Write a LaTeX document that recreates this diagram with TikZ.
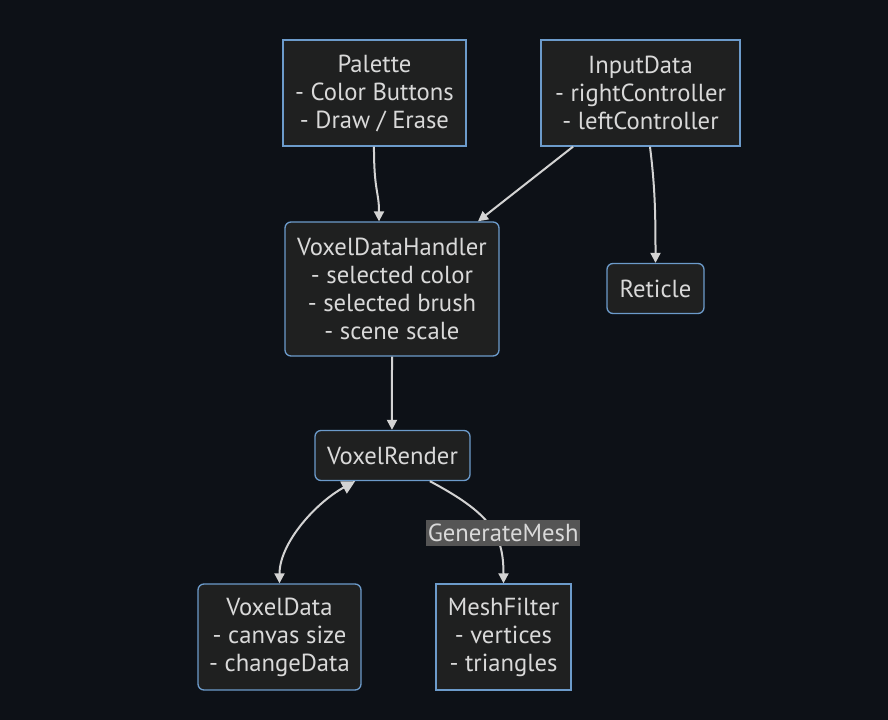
\documentclass[tikz,border=0pt]{standalone}
\usepackage{fontspec}
\setmainfont{PT Sans}
\usepackage{tikz}
\usetikzlibrary{arrows.meta}

\definecolor{bgdark}{HTML}{0D1117}
\definecolor{boxfill}{HTML}{1F2020}
\definecolor{boxline}{HTML}{6C9BCB}
\definecolor{txt}{HTML}{D9D9D9}
\definecolor{edge}{HTML}{D3D3D3}
\definecolor{lblfill}{HTML}{555555}

\begin{document}
\begin{tikzpicture}[
  x=0.75pt, y=-0.75pt,
  font=\fontsize{18.5}{21}\selectfont,
  every node/.style={align=center, text=txt},
  block/.style={draw=boxline, line width=1pt, fill=boxfill, inner sep=0pt},
  rblock/.style={block, rounded corners=4.5pt},
  to/.style={-{Triangle[length=7.5pt,width=7.5pt]}, draw=edge, line width=1.5pt},
  tofrom/.style={{Triangle[length=10pt,width=10pt]}-{Triangle[length=7.5pt,width=7.5pt]}, draw=edge, line width=1.5pt},
  edgelabel/.style={fill=lblfill, inner sep=1pt, minimum height=19.5pt}]

  \fill[bgdark] (0,0) rectangle (888,720);
  \useasboundingbox (0,0) rectangle (888,720);

  % Position the nodes
  \node[block, minimum width=137.25pt, minimum height=79.5pt] (Palette) at (374.5,93)
    {Palette\\- Color Buttons\\- Draw / Erase};
  \node[block, minimum width=149.25pt, minimum height=79.5pt] (InputData) at (640.5,93)
    {InputData\\- rightController\\- leftController};
  \node[rblock, minimum width=160.5pt, minimum height=100.5pt] (Handler) at (392,289)
    {VoxelDataHandler\\- selected color\\- selected brush\\- scene scale};
  \node[rblock, minimum width=72.75pt, minimum height=37.5pt] (Reticle) at (655.5,288.5) {Reticle};
  \node[rblock, minimum width=116.25pt, minimum height=37.5pt] (Render) at (392.5,455.5) {VoxelRender};
  \node[rblock, minimum width=122.25pt, minimum height=79.5pt] (VoxelData) at (279.5,637)
    {VoxelData\\- canvas size\\- changeData};
  \node[block, minimum width=101.25pt, minimum height=79.5pt] (MeshFilter) at (503.5,637)
    {MeshFilter\\- vertices\\- triangles};

  % Draw the arrows between the nodes and label them.
  \draw[to] ([xshift=-0.4pt]Palette.south) .. controls +(0,45) and +(0,-30) .. ([xshift=-9.75pt]Handler.north);
  \draw[to] ([xshift=-50.6pt]InputData.south) -- ([xshift=64.5pt]Handler.north);
  \draw[to] ([xshift=7.1pt]InputData.south) .. controls +(5,40) and +(0,-50) .. (Reticle.north);
  \draw[to] (Handler.south) -- ([xshift=-0.4pt]Render.north);
  \draw[tofrom] ([xshift=-28pt]Render.south) .. controls +(-40,22) and +(0,-40) .. (VoxelData.north);
  \draw[to] ([xshift=28pt]Render.south) .. controls +(60,32) and +(0,-50) .. (MeshFilter.north)
    node[edgelabel, pos=0.58, xshift=7pt] {GenerateMesh};
\end{tikzpicture}
\end{document}
